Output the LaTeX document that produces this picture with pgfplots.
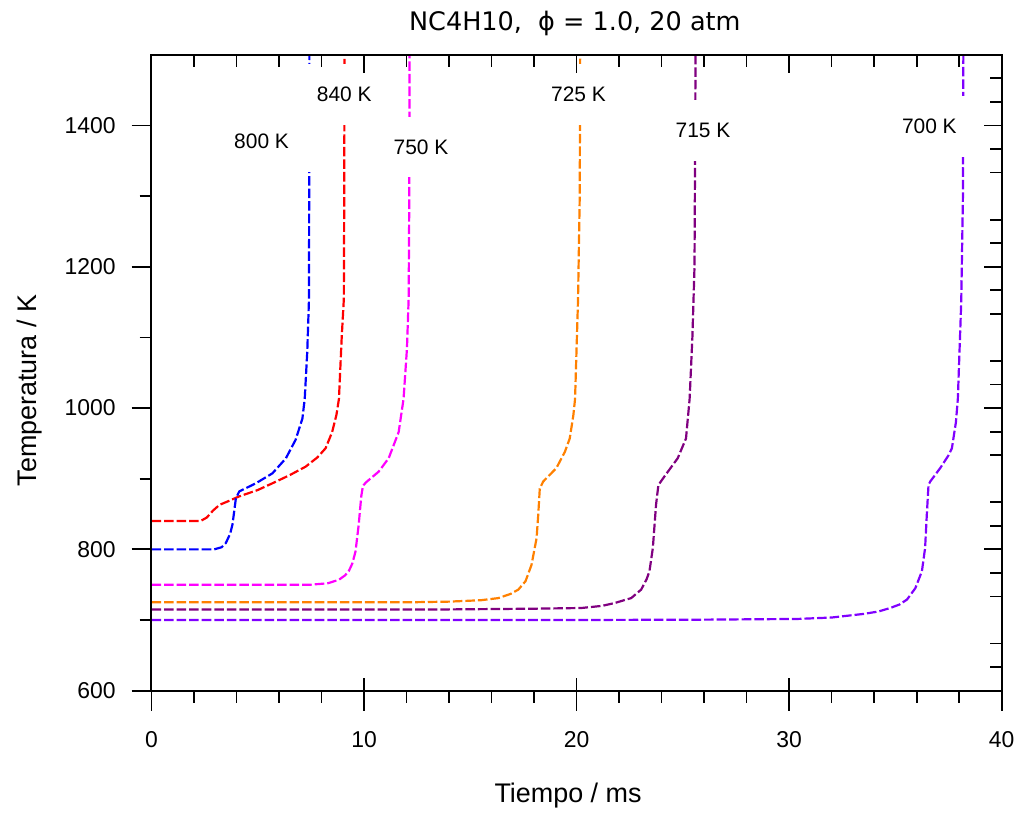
\documentclass[border=0pt]{standalone}
\usepackage{pgfplots}
\pgfplotsset{compat=1.18}
\usepackage{fontspec}
\setmainfont{Liberation Sans}
\newfontfamily\titlefont{DejaVu Sans}
\definecolor{c800}{RGB}{0,0,255}
\definecolor{c840}{RGB}{255,0,0}
\definecolor{c750}{RGB}{255,0,255}
\definecolor{c725}{RGB}{255,128,0}
\definecolor{c715}{RGB}{128,0,128}
\definecolor{c700}{RGB}{128,0,255}
\tikzset{lab/.style={fill=white, inner xsep=11.5pt, inner ysep=11.5pt, font=\fontsize{10.5}{12}\selectfont}}
\begin{document}
\begin{tikzpicture}
\pgfplotsset{
  base/.style={scale only axis, width=426.5pt, height=319pt,
    xmin=0, xmax=40, ymin=600, ymax=1500,
    axis line style={line width=1pt, black},
    tick style={line width=0.9pt, black}},
  curve/.style={line width=1.1pt, dash pattern=on 4.8pt off 1.5pt, no markers},
}
\begin{axis}[base, name=A, clip mode=individual,
  xtick={0,10,20,30,40}, minor xtick={2,4,...,38}, xtick pos=lower,
  ytick={600,800,1000,1200,1400}, minor ytick={700,900,1100,1300}, ytick pos=left,
  tick align=outside, major tick length=10pt, minor tick length=6pt,
  /pgf/number format/assume math mode=true,
  /pgf/number format/set thousands separator={},
  scaled ticks=false,
  tick label style={font=\fontsize{11.5}{13}\selectfont},
  xticklabel style={yshift=-7pt}, yticklabel style={xshift=-4.5pt},
  xlabel={Tiempo / ms}, ylabel={Temperatura / K},
  xlabel style={at={(axis description cs:0.49,-0.165)}, anchor=center, font=\fontsize{13.5}{15}\selectfont},
  ylabel style={at={(axis description cs:-0.144,0.472)}, anchor=center, rotate=0, font=\fontsize{13.5}{15}\selectfont},
]
% 840 K
\addplot[curve, c840] coordinates {(0,840) (2.3,840) (2.6,845) (2.9,855) (3.2,863) (3.6,868) (4.13,875) (5.0,884) (5.69,893.5) (6.5,905) (7.25,917) (7.8,930) (8.19,943) (8.5,966) (8.7,990) (8.82,1013) (8.95,1100) (9.05,1154) (9.07,1300) (9.08,1500)};
% 800 K
\addplot[curve, c800] coordinates {(0,800) (2.95,800) (3.3,803) (3.5,809) (3.7,822) (3.81,835) (3.97,872) (4.13,882) (4.91,893.5) (5.69,907.6) (6.32,928.7) (6.78,955) (7.1,985) (7.21,1013) (7.33,1080) (7.41,1154) (7.42,1300) (7.43,1500)};
% 750 K
\addplot[curve, c750] coordinates {(0,750) (7.5,750) (8.3,752) (8.82,757) (9.1,763) (9.28,769) (9.45,780) (9.6,797) (9.75,835) (9.87,875) (9.95,890) (10.1,895) (10.69,910) (11.16,929) (11.63,966) (11.86,1013) (12.02,1084) (12.1,1155) (12.13,1300) (12.14,1500)};
% 725 K
\addplot[curve, c725] coordinates {(0,725) (12,725) (14,726) (15.5,728) (16.32,731) (16.9,737) (17.26,743) (17.6,755) (17.88,778) (18.02,800) (18.12,816) (18.2,850) (18.27,886) (18.43,896) (19.05,915) (19.45,938) (19.68,957) (19.85,990) (19.93,1013) (20.07,1154) (20.15,1300) (20.17,1500)};
% 715 K
\addplot[curve, c715] coordinates {(0,715) (14,715) (18,716) (20.23,717) (21.2,720) (21.79,724) (22.57,731) (23.04,743) (23.3,758) (23.43,769) (23.59,802) (23.74,863) (23.85,891) (24.13,903) (24.76,929) (25.15,957) (25.32,1013) (25.45,1100) (25.55,1200) (25.6,1500)};
% 700 K
\addplot[curve, c700] coordinates {(0,700) (20,700) (26,700.5) (30.4,701.5) (32,703.5) (33.5,708.6) (34.2,712) (34.76,717) (35.2,722) (35.55,729) (35.94,745) (36.25,769) (36.4,802) (36.48,849) (36.56,891) (36.64,896) (37.11,915) (37.5,933) (37.66,943) (37.85,980) (37.94,1013) (38.1,1150) (38.18,1300) (38.2,1500)};
\node[lab] at (axis cs:5.18,1377.4) {800 K};
\node[lab] at (axis cs:9.07,1444.2) {840 K};
\node[lab] at (axis cs:12.68,1369.7) {750 K};
\node[lab] at (axis cs:20.09,1444.2) {725 K};
\node[lab] at (axis cs:25.95,1393) {715 K};
\node[lab] at (axis cs:36.60,1398.6) {700 K};
\node[font=\titlefont\fontsize{12.8}{14}\selectfont] at (axis description cs:0.498,1.049) {NC4H10,\ \ ϕ = 1.0, 20 atm};
\end{axis}
\begin{axis}[base,
  xtick={0,10,20,30,40}, minor xtick={2,4,...,38}, xtick pos=upper,
  ytick={600,800,1000,1200,1400},
  minor ytick={633.333,666.667,733.333,766.667,833.333,866.667,933.333,966.667,1033.333,1066.667,1133.333,1166.667,1233.333,1266.667,1333.333,1366.667,1433.333,1466.667},
  ytick pos=right, tick align=inside, major tick length=9pt, minor tick length=6pt,
  xticklabels={}, yticklabels={}]
\end{axis}
\begin{axis}[base, xtick={10,20,30}, xtick pos=lower, ytick=\empty,
  tick align=inside, major tick length=6.5pt, xticklabels={}]
\end{axis}
\path (A.south west) ++(-76pt,-61.5pt) coordinate (bl);
\path (A.north east) ++(8pt,27.5pt) coordinate (tr);
\path (bl) rectangle (tr);
\end{tikzpicture}
\end{document}
